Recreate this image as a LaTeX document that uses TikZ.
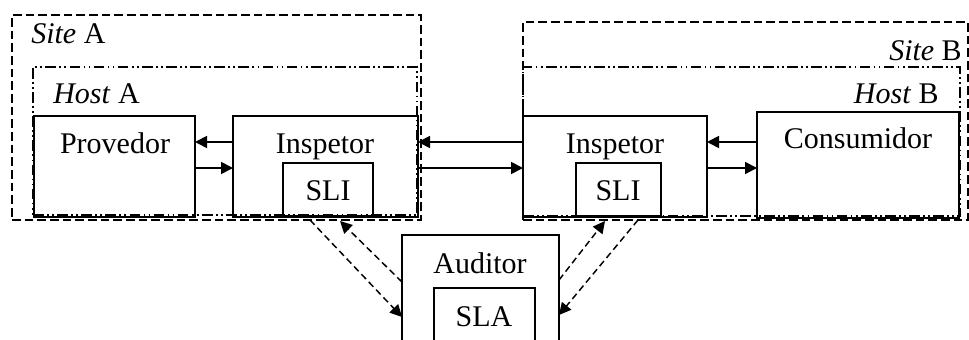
\documentclass[tikz,border=0pt]{standalone}
\usepackage{fontspec}
\setmainfont{Liberation Serif}
\usetikzlibrary{arrows.meta,calc,fit}
\begin{document}
\begin{tikzpicture}[x=0.75pt,y=-0.75pt,
  box/.style={draw,line width=1.35pt,rectangle,inner sep=0pt,outer sep=0pt},
  sitebox/.style={draw,rectangle,inner sep=0pt,line width=1.2pt,dash pattern=on 6.5pt off 3pt},
  hostbox/.style={draw,rectangle,inner sep=0pt,line width=1.1pt,dash pattern=on 8pt off 2.5pt on 1.3pt off 2.5pt on 1.3pt off 2.5pt},
  lbl/.style={font=\fontsize{22.5}{26}\selectfont,inner sep=0pt,anchor=base},
  flow/.style={line width=1.35pt,-{Triangle[length=9pt,width=9pt]}},
  ctrl/.style={line width=1.1pt,dash pattern=on 5pt off 3pt,-{Triangle[length=9pt,width=9pt]}}]
\useasboundingbox (0,0) rectangle (969,339);
\clip (0,0) rectangle (969,339);

% sites and hosts
\node[sitebox,fit={(12,15) (421,220)}] (siteA) {};
\node[hostbox,fit={(33,67) (417,215)}] (hostA) {};
\node[sitebox,fit={(523,22) (968,220)}] (siteB) {};
\node[hostbox,fit={(523,67) (960,216)}] (hostB) {};

% components
\node[box,fit={(34,116) (195,217)}] (prov) {};
\node[box,fit={(233,116) (418,217)}] (inspA) {};
\node[box,fit={(283,163) (373,216)}] (sliA) {};
\node[box,fit={(523,116) (707,217)}] (inspB) {};
\node[box,fit={(576,163) (661,216)}] (sliB) {};
\node[box,fit={(757,112) (959,218)}] (cons) {};
\node[box,fit={(402,235) (559,360)}] (aud) {};
\node[box,fit={(434,288) (535,360)}] (sla) {};

% labels
\node[lbl,anchor=base west] (tSiteA) at (31,43) {\textit{Site} A};
\node[lbl,anchor=base west] (tHostA) at (53,103) {\textit{Host} A};
\node[lbl,anchor=base east] (tSiteB) at (962,60) {\textit{Site} B};
\node[lbl,anchor=base east] (tHostB) at (939,103) {\textit{Host} B};
\node[lbl] (tProv) at (115,153) {Provedor};
\node[lbl] (tInspA) at (325,153) {Inspetor};
\node[lbl] (tInspB) at (615,153) {Inspetor};
\node[lbl] (tSliA) at (328,200) {SLI};
\node[lbl] (tSliB) at (618,200) {SLI};
\node[lbl] (tCons) at (858,148) {Consumidor};
\node[lbl] (tAud) at (480,273) {Auditor};
\node[lbl] (tSla) at (484,326) {SLA};

% message rows
\coordinate (r1) at (0,142);
\coordinate (r2) at (0,168);

\draw[flow] (inspA.west |- r1) -- (prov.east |- r1);
\draw[flow] (prov.east |- r2) -- (inspA.west |- r2);
\draw[flow] (inspB.west |- r1) -- (inspA.east |- r1);
\draw[flow] (inspA.east |- r2) -- (inspB.west |- r2);
\draw[flow] (cons.west |- r1) -- (inspB.east |- r1);
\draw[flow] (inspB.east |- r2) -- (cons.west |- r2);

% audit links
\draw[ctrl] ($(sliA.south west)+(27,4)$) -- ($(aud.north west)+(0,82)$);
\draw[ctrl] ($(aud.north west)+(0,47)$) -- ($(sliA.south west)+(57,5)$);
\draw[ctrl] ($(aud.north east)+(0,45)$) -- ($(sliB.south west)+(29,5)$);
\draw[ctrl] ($(sliB.south west)+(62,4)$) -- ($(aud.north east)+(0,80)$);
\end{tikzpicture}
\end{document}
